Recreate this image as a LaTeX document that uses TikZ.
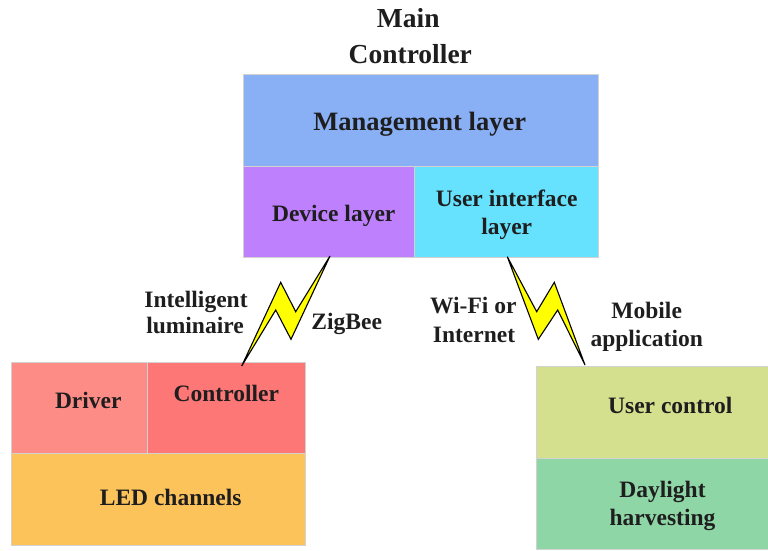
\documentclass[tikz,border=0pt]{standalone}
\usepackage{fontspec}
\setmainfont{Liberation Serif}
\definecolor{txt}{HTML}{1E1E1E}
\definecolor{edge}{HTML}{D2D2D2}
\definecolor{cmgmt}{HTML}{89AFF5}
\definecolor{cdev}{HTML}{BF80FE}
\definecolor{cui}{HTML}{66E1FE}
\definecolor{cdrv}{HTML}{FE8C86}
\definecolor{cctl}{HTML}{FE7777}
\definecolor{cled}{HTML}{FDC35B}
\definecolor{cuc}{HTML}{D4E08E}
\definecolor{cday}{HTML}{8FD6A7}
\definecolor{boltyel}{HTML}{FFFF00}
\begin{document}
\begin{tikzpicture}[x=1pt,y=-1pt,
  box/.style={draw=edge, line width=1pt, inner sep=0pt, outer sep=0pt, anchor=north west},
  lbl/.style={font=\bfseries\fontsize{23.5}{28}\selectfont, text=txt, inner sep=0pt, anchor=base},
  biglbl/.style={lbl, font=\bfseries\fontsize{26.5}{32}\selectfont},
  titlelbl/.style={lbl, font=\bfseries\fontsize{27.5}{33}\selectfont},
  bolt/.style={draw=black, line width=1.1pt, fill=boltyel, line join=miter}]
\useasboundingbox (0,0) rectangle (768,550);
% main controller
\node[box, fill=cmgmt, minimum width=355pt, minimum height=92pt] (mgmt) at (243,74) {};
\node[box, fill=cdev, minimum width=171.3pt, minimum height=91pt] (dev) at (243,166) {};
\node[box, fill=cui, minimum width=183.7pt, minimum height=91pt] (ui) at (414.3,166) {};
% luminaire
\node[box, fill=cdrv, minimum width=136.7pt, minimum height=91.3pt] (drv) at (11,362) {};
\node[box, fill=cctl, minimum width=157.3pt, minimum height=91.3pt] (ctl) at (147.7,362) {};
\node[box, fill=cled, minimum width=294pt, minimum height=91.7pt] (led) at (11,453.3) {};
% mobile app
\node[box, fill=cuc, minimum width=232pt, minimum height=91.6pt] (uc) at (536.7,366.7) {};
\node[box, fill=cday, minimum width=232pt, minimum height=91pt] (day) at (536.7,458.3) {};
% bolts
\draw[bolt] (241.7,366) -- (280.7,282.3) -- (295.7,311.7) -- (330,256)
  -- (291,339.3) -- (275.7,310) -- cycle;
\draw[bolt] (585,365) -- (554.3,282.3) -- (536.7,311.7) -- (507.3,256.7)
  -- (538.3,339.3) -- (557.7,310) -- cycle;
% labels
\node[titlelbl] (t1) at (408.3,27) {Main};
\node[titlelbl] (t2) at (410.3,63) {Controller};
\node[biglbl] (lm) at (419.7,130) {Management layer};
\node[lbl] (ld) at (333.7,221) {Device layer};
\node[lbl] (lu1) at (506.7,206.7) {User interface};
\node[lbl] (lu2) at (506.7,234.3) {layer};
\node[lbl] (li1) at (196,307.7) {Intelligent};
\node[lbl] (li2) at (195,333.3) {luminaire};
\node[lbl] (lz) at (346.7,329.3) {ZigBee};
\node[lbl] (lw1) at (473.3,313.3) {Wi-Fi or};
\node[lbl] (lw2) at (474,342.3) {Internet};
\node[lbl] (lmo1) at (646.7,318.3) {Mobile};
\node[lbl] (lmo2) at (646.7,346.3) {application};
\node[lbl] (ldr) at (88.3,408.3) {Driver};
\node[lbl] (lct) at (226.3,401) {Controller};
\node[lbl] (lled) at (170.7,505) {LED channels};
\node[lbl] (luc) at (670.3,413.3) {User control};
\node[lbl] (lda1) at (662.5,497.7) {Daylight};
\node[lbl] (lda2) at (662.5,525.5) {harvesting};
\end{tikzpicture}
\end{document}
